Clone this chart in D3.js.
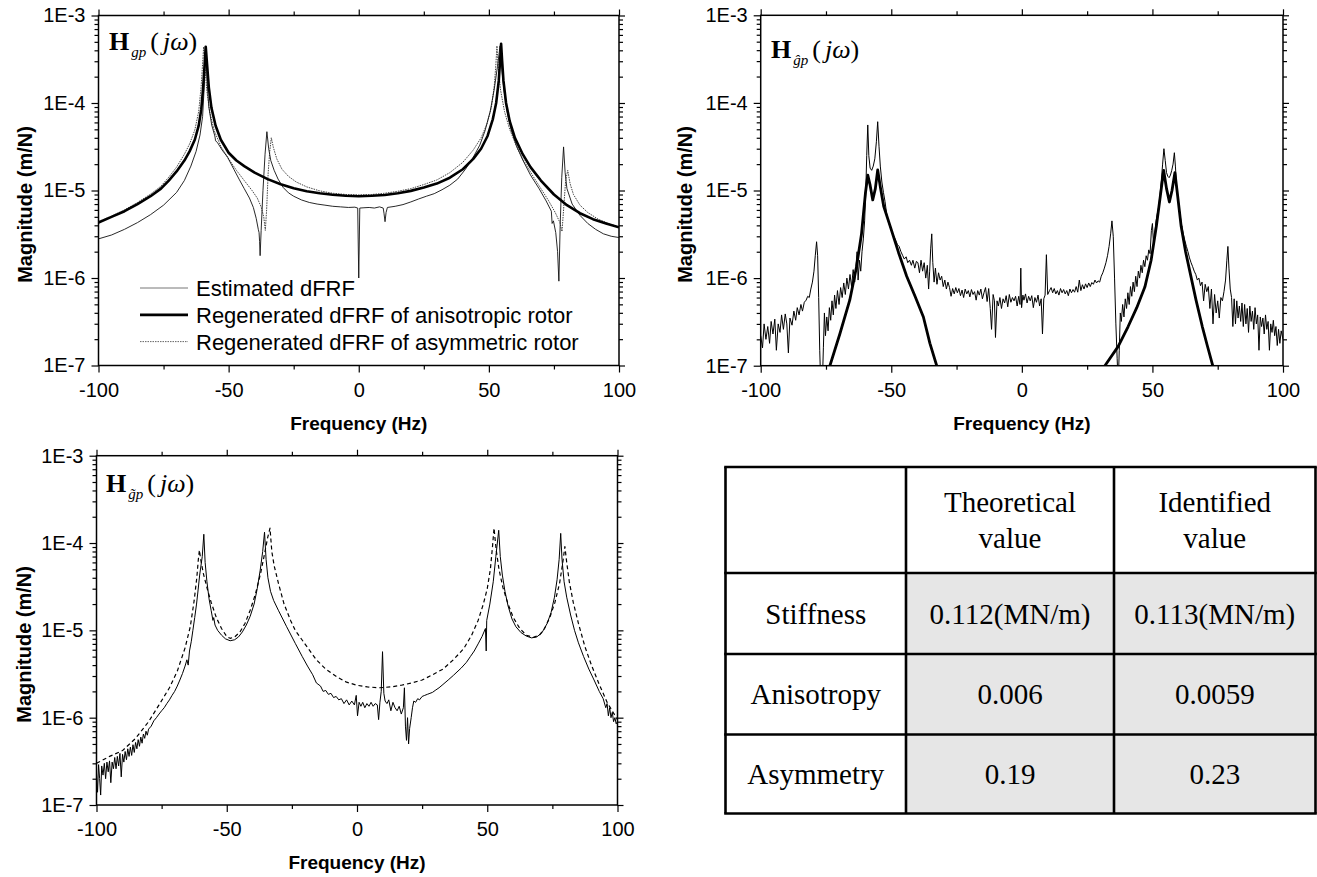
<!DOCTYPE html>
<html>
<head>
<meta charset="utf-8">
<script src="https://cdn.jsdelivr.net/npm/d3@7"></script>
<style>
  body { margin: 0; background: #fff; }
</style>
</head>
<body>
<script>
// ---- axis ticks ----
var xMajor = [-100, -50, 0, 50, 100];
var xMinor = [-75, -25, 25, 75];
var yMajor = [1e-7, 1e-6, 1e-5, 1e-4, 1e-3];

// ---- top left: H_gp ----
var gpEstimated = [[-100,2.8e-6],[-95,3.1e-6],[-90,3.6e-6],[-85,4.3e-6],[-80,5.3e-6],[-75,6.8e-6],[-70,9.5e-6],[-67,1.3e-5],[-64.5,1.9e-5],[-62.5,2.8e-5],[-61,4.3e-5],[-60,7e-5],[-59.4,1.5e-4],[-58.8,4.3e-4],[-58.3,1.8e-4],[-57.6,9e-5],[-56.5,5.6e-5],[-55.3,4.2e-5],[-55,3.7e-5],[-54.2,3.5e-5],[-52.5,2.9e-5],[-50.4,2.4e-5],[-48,1.75e-5],[-46,1.35e-5],[-44,1.05e-5],[-42,8.2e-6],[-40.5,6.4e-6],[-39.4,4.8e-6],[-38.6,3.6e-6],[-38.3,3.3e-6],[-38.1,2.6e-6],[-37.9,1.8e-6],[-37.5,3.5e-6],[-36.8,1e-5],[-36,2.6e-5],[-35.3,4.7e-5],[-34.6,3e-5],[-33.8,2.2e-5],[-32.5,1.7e-5],[-31,1.35e-5],[-29,1.08e-5],[-27,9.4e-6],[-25,8.6e-6],[-22,7.8e-6],[-19,7.3e-6],[-16,7e-6],[-13,6.8e-6],[-10,6.6e-6],[-7,6.5e-6],[-4,6.4e-6],[-1.5,6.45e-6],[-0.4,6.3e-6],[0,1e-6],[0.4,6.3e-6],[2,6.35e-6],[4,6.4e-6],[6,6.3e-6],[8,6.5e-6],[9.4,6.3e-6],[9.7,5.5e-6],[10.1,4.4e-6],[10.5,5.6e-6],[11,6.4e-6],[14,6.6e-6],[17,6.9e-6],[20,7.4e-6],[23,8e-6],[26,8.6e-6],[29,9.2e-6],[32,1.02e-5],[35,1.15e-5],[38,1.35e-5],[41,1.75e-5],[44,2.4e-5],[46.5,3.3e-5],[48.5,4.8e-5],[50.5,8e-5],[52,1.4e-4],[53.3,2.6e-4],[54.3,4.5e-4],[55,2.4e-4],[55.8,1.4e-4],[57,8e-5],[58.5,5e-5],[60.5,3.3e-5],[62.8,2.3e-5],[66,1.5e-5],[69.3,1.05e-5],[72,7.6e-6],[74,5.8e-6],[74.3,4.2e-6],[74.8,4.5e-6],[75.7,3.3e-6],[76.4,2e-6],[76.9,9.2e-7],[77.4,4e-6],[78,1.4e-5],[78.7,3.15e-5],[79.3,1.6e-5],[80,1.05e-5],[82,7e-6],[85,5.2e-6],[88,4.2e-6],[91,3.6e-6],[94,3.2e-6],[97,3e-6],[100,2.9e-6]];

var gpAniso = [[-100,4.3e-6],[-95,5e-6],[-90,5.8e-6],[-85,7e-6],[-80,8.6e-6],[-76,1.05e-5],[-73,1.3e-5],[-70,1.65e-5],[-67,2.2e-5],[-65,2.8e-5],[-63,3.8e-5],[-61.5,5.5e-5],[-60.5,8.5e-5],[-59.8,1.5e-4],[-59.2,2.8e-4],[-58.8,4.4e-4],[-58.3,2.8e-4],[-57.6,1.5e-4],[-56.6,8.8e-5],[-55,5.5e-5],[-53,3.8e-5],[-50,2.7e-5],[-47,2.2e-5],[-44,1.9e-5],[-40,1.6e-5],[-35,1.35e-5],[-30,1.18e-5],[-25,1.06e-5],[-20,9.8e-6],[-15,9.3e-6],[-10,8.95e-6],[-5,8.7e-6],[0,8.6e-6],[5,8.7e-6],[10,8.9e-6],[15,9.3e-6],[20,9.9e-6],[25,1.08e-5],[30,1.2e-5],[35,1.4e-5],[40,1.75e-5],[44,2.3e-5],[47,3e-5],[49.5,4.2e-5],[51.5,6.5e-5],[52.8,1e-4],[53.8,1.8e-4],[54.3,3e-4],[54.7,4.75e-4],[55.1,3e-4],[55.6,1.8e-4],[56.6,1e-4],[58,6.2e-5],[60,4e-5],[63,2.6e-5],[66,1.85e-5],[70,1.3e-5],[75,9e-6],[80,6.8e-6],[85,5.5e-6],[90,4.7e-6],[95,4.2e-6],[100,3.8e-6]];

var gpAsym = [[-100,4.4e-6],[-95,5.1e-6],[-90,6e-6],[-85,7.3e-6],[-80,9.1e-6],[-76,1.12e-5],[-73,1.42e-5],[-70,1.85e-5],[-67,2.6e-5],[-65,3.4e-5],[-63,4.9e-5],[-61.5,8e-5],[-60.6,1.5e-4],[-60,2.8e-4],[-59.6,4.4e-4],[-59.1,2.6e-4],[-58.4,1.4e-4],[-57.3,8e-5],[-55.5,4.8e-5],[-53,3.2e-5],[-50,2.3e-5],[-47,1.7e-5],[-44,1.3e-5],[-41,1e-5],[-39,8.2e-6],[-37.5,6.5e-6],[-36.5,5e-6],[-35.9,3.5e-6],[-35.4,6e-6],[-34.8,1.6e-5],[-34.2,2.8e-5],[-33.6,4e-5],[-32.8,3.1e-5],[-31.5,2.3e-5],[-29.5,1.75e-5],[-27,1.45e-5],[-24,1.25e-5],[-20,1.1e-5],[-15,9.9e-6],[-10,9.3e-6],[-5,9e-6],[0,8.9e-6],[5,9e-6],[10,9.3e-6],[15,9.8e-6],[20,1.05e-5],[25,1.17e-5],[30,1.32e-5],[35,1.6e-5],[40,2.1e-5],[44,2.9e-5],[47,4e-5],[49.3,5.8e-5],[51,9e-5],[52.1,1.6e-4],[52.7,2.8e-4],[53.1,4.5e-4],[53.6,2.6e-4],[54.5,1.4e-4],[56,8e-5],[58,5e-5],[61,3e-5],[64,2.05e-5],[67,1.45e-5],[70,1.05e-5],[73,7.6e-6],[75.5,5.6e-6],[77.3,4.3e-6],[78.1,3.4e-6],[78.7,6e-6],[79.5,1.3e-5],[80.3,1.7e-5],[81.2,1.2e-5],[82.5,9e-6],[85,6.8e-6],[88,5.6e-6],[92,4.7e-6],[96,4.2e-6],[100,3.8e-6]];

var legendLabels = ["Estimated dFRF", "Regenerated dFRF of anisotropic rotor", "Regenerated dFRF of asymmetric rotor"];

// ---- top right: H_ĝp ----
var hatEstimated = [[-100,2.2e-7],[-99.3,1.6e-7],[-98.7,3e-7],[-98,2e-7],[-97.3,2.8e-7],[-96.6,1.8e-7],[-96,3.2e-7],[-95.3,2.3e-7],[-94.6,3.4e-7],[-94,1.5e-7],[-93.3,3e-7],[-92.6,2.4e-7],[-92,3.8e-7],[-91.3,2.6e-7],[-90.6,3.9e-7],[-90,3e-7],[-89.4,1.4e-7],[-88.8,3.5e-7],[-88,2.9e-7],[-87.3,4.2e-7],[-86.6,3.3e-7],[-86,4.6e-7],[-85.3,3.8e-7],[-84.6,5e-7],[-84,4.2e-7],[-83.3,5.3e-7],[-82.6,5.6e-7],[-82,6.2e-7],[-81.4,6e-7],[-80.8,7.5e-7],[-80.2,9e-7],[-79.6,1.2e-6],[-79.1,1.8e-6],[-78.6,2.6e-6],[-78.2,1.8e-6],[-77.8,6e-7],[-77.4,1.5e-7],[-77,6e-8],[-76.4,6e-8],[-76,1.6e-7],[-75.6,4e-7],[-75.2,2.2e-7],[-74.7,3.6e-7],[-74.2,2.5e-7],[-73.7,4.6e-7],[-73.2,3.3e-7],[-72.7,5.5e-7],[-72.2,3.8e-7],[-71.7,6.4e-7],[-71.2,4.5e-7],[-70.6,7.2e-7],[-70,5e-7],[-69.4,7.8e-7],[-68.8,6e-7],[-68.2,8.8e-7],[-67.6,6.5e-7],[-67,1e-6],[-66.4,7.5e-7],[-65.8,1.1e-6],[-65.2,8e-7],[-64.6,1.25e-6],[-64,9e-7],[-63.5,1.4e-6],[-63.1,2e-6],[-62.7,9.5e-7],[-62.2,1.6e-6],[-61.7,1.2e-6],[-61.2,2e-6],[-60.7,2.8e-6],[-60.2,4.5e-6],[-59.8,9e-6],[-59.4,2.5e-5],[-59,5.6e-5],[-58.6,2.5e-5],[-58.1,1.8e-5],[-57.5,1.7e-5],[-56.9,1.9e-5],[-56.3,2.3e-5],[-55.7,3.6e-5],[-55.2,6.1e-5],[-54.7,3.2e-5],[-54.2,1.9e-5],[-53.6,1.25e-5],[-53,9.5e-6],[-52.4,7.5e-6],[-51.8,5.5e-6],[-51.2,4.5e-6],[-50.5,3.9e-6],[-49.8,3.4e-6],[-49,3e-6],[-48.3,2.7e-6],[-47.6,2.4e-6],[-47,2.3e-6],[-46.3,2e-6],[-45.6,1.8e-6],[-45,1.65e-6],[-44.3,1.75e-6],[-43.7,1.5e-6],[-43,1.6e-6],[-42.3,1.4e-6],[-41.7,1.6e-6],[-41,1.3e-6],[-40.4,1.55e-6],[-39.8,1.5e-6],[-39.2,1.15e-6],[-38.6,1.6e-6],[-38,1.2e-6],[-37.4,1.5e-6],[-36.8,1e-6],[-36.2,1.4e-6],[-35.7,7.5e-7],[-35.3,1.2e-6],[-34.9,2.2e-6],[-34.5,3.2e-6],[-34.1,1.5e-6],[-33.6,9e-7],[-33.1,1.3e-6],[-32.5,8.5e-7],[-31.9,1.15e-6],[-31.3,9.5e-7],[-30.7,1.05e-6],[-30.1,8e-7],[-29.5,9.5e-7],[-28.9,7.5e-7],[-28.3,9e-7],[-27.7,7.8e-7],[-27.1,6.2e-7],[-26.5,7.6e-7],[-25.9,6.6e-7],[-25.3,7.8e-7],[-24.7,6.8e-7],[-24.1,7.6e-7],[-23.5,6.3e-7],[-22.9,7.3e-7],[-22.3,6e-7],[-21.7,7.5e-7],[-21.1,6.6e-7],[-20.5,7.2e-7],[-19.9,6.1e-7],[-19.3,7.4e-7],[-18.7,6.5e-7],[-18.1,7e-7],[-17.5,5.6e-7],[-16.9,7.2e-7],[-16.3,6.4e-7],[-15.7,7.5e-7],[-15.1,5.8e-7],[-14.5,6.8e-7],[-13.9,7.8e-7],[-13.3,5.4e-7],[-12.7,7.6e-7],[-12.1,4.5e-7],[-11.6,2.6e-7],[-11,6.5e-7],[-10.5,5.5e-7],[-10.1,2.1e-7],[-9.5,5.5e-7],[-9,4.8e-7],[-8.4,6e-7],[-7.8,4.5e-7],[-7.2,5.8e-7],[-6.6,5.2e-7],[-6,6.3e-7],[-5.4,4.7e-7],[-4.8,6.5e-7],[-4.2,5.3e-7],[-3.6,6e-7],[-3,5.5e-7],[-2.4,6.2e-7],[-1.8,4.8e-7],[-1.2,6.2e-7],[-0.7,5e-7],[-0.4,1.3e-6],[-0.1,4.6e-7],[0.4,6.4e-7],[0.8,5.6e-7],[1.4,6.6e-7],[2,5.2e-7],[2.6,6.2e-7],[3.2,5.5e-7],[3.8,6.3e-7],[4.4,4.6e-7],[5,6e-7],[5.6,5.3e-7],[6.2,6.4e-7],[6.8,4.8e-7],[7.4,5.8e-7],[7.9,2.3e-7],[8.4,5.8e-7],[8.9,6.4e-7],[9.4,1.85e-6],[9.9,6.5e-7],[10.6,7.2e-7],[11.2,7.8e-7],[11.8,6.8e-7],[12.4,7.6e-7],[13,6.6e-7],[13.6,7.2e-7],[14.2,6.4e-7],[14.8,7.6e-7],[15.4,6.8e-7],[16,7.4e-7],[16.6,6.6e-7],[17.2,7.2e-7],[17.8,6.3e-7],[18.4,7.5e-7],[19,6.8e-7],[19.6,7.4e-7],[20.2,6.9e-7],[20.8,8e-7],[21.4,6.9e-7],[22,9.5e-7],[22.6,7.2e-7],[23.2,8.4e-7],[23.8,7.5e-7],[24.4,8.6e-7],[25,7.8e-7],[25.6,8.8e-7],[26.2,8e-7],[26.8,8.9e-7],[27.4,8.5e-7],[28,9.5e-7],[28.6,8.8e-7],[29.2,9.3e-7],[29.8,9e-7],[30.4,1.05e-6],[31,1.15e-6],[31.6,1.3e-6],[32.2,1.5e-6],[32.8,1.8e-6],[33.4,2.3e-6],[34,3.2e-6],[34.5,4.5e-6],[35,3e-6],[35.5,1e-6],[36,3e-7],[36.5,1.2e-7],[36.9,6e-8],[37.3,1.5e-7],[37.7,4e-7],[38.1,3.2e-7],[38.6,5e-7],[39.1,3.6e-7],[39.6,5.8e-7],[40.1,4.5e-7],[40.6,6.8e-7],[41.1,5e-7],[41.6,8e-7],[42.1,6.2e-7],[42.6,9e-7],[43.1,7e-7],[43.6,1.05e-6],[44.1,8e-7],[44.6,1.2e-6],[45.1,1e-6],[45.6,1.4e-6],[46.1,1.15e-6],[46.6,1.6e-6],[47.1,1.35e-6],[47.6,1.8e-6],[48.1,1.6e-6],[48.6,2.1e-6],[49.1,1.9e-6],[49.6,3.5e-6],[50,4.2e-6],[50.4,2.5e-6],[50.9,3.2e-6],[51.4,4.5e-6],[51.9,5.5e-6],[52.4,6.5e-6],[52.9,9e-6],[53.4,1.3e-5],[53.9,2e-5],[54.4,3e-5],[54.9,2.2e-5],[55.4,1.6e-5],[55.9,1.45e-5],[56.4,1.4e-5],[56.9,1.5e-5],[57.4,1.7e-5],[57.9,2e-5],[58.4,2.7e-5],[58.8,1.9e-5],[59.2,1.2e-5],[59.7,8.5e-6],[60.2,6.5e-6],[60.7,5e-6],[61.2,4e-6],[61.8,3.2e-6],[62.4,2.7e-6],[63,2.3e-6],[63.6,2e-6],[64.2,1.7e-6],[64.8,1.5e-6],[65.4,1.35e-6],[66,1.2e-6],[66.6,1.1e-6],[67.2,9.5e-7],[67.8,1e-6],[68.4,8.2e-7],[69,9e-7],[69.6,5.5e-7],[70.2,8.5e-7],[70.8,7e-7],[71.4,8e-7],[72,4.5e-7],[72.6,7.5e-7],[73.2,3e-7],[73.8,6.5e-7],[74.4,4e-7],[75,5.5e-7],[75.6,3.5e-7],[76.2,6e-7],[76.8,5.5e-7],[77.4,7e-7],[78,9.5e-7],[78.5,1.6e-6],[78.9,2.3e-6],[79.3,1.3e-6],[79.8,7.5e-7],[80.3,6e-7],[80.8,2.8e-7],[81.3,5.8e-7],[81.8,3e-7],[82.3,5.5e-7],[82.8,3.5e-7],[83.3,4.8e-7],[83.8,3.2e-7],[84.3,5.2e-7],[84.8,2.8e-7],[85.3,5e-7],[85.8,3e-7],[86.3,4.5e-7],[86.8,2.4e-7],[87.3,4.8e-7],[87.8,3.2e-7],[88.3,4.2e-7],[88.8,2.6e-7],[89.3,4.6e-7],[89.8,3e-7],[90.3,3.8e-7],[90.8,1.5e-7],[91.3,3.6e-7],[91.8,2.8e-7],[92.3,3.5e-7],[92.8,2.3e-7],[93.3,3.8e-7],[93.8,2.6e-7],[94.3,3.2e-7],[94.8,1.5e-7],[95.3,3e-7],[95.8,2.4e-7],[96.3,3.3e-7],[96.8,2.2e-7],[97.3,2.8e-7],[97.8,1.7e-7],[98.3,2.6e-7],[98.8,1.8e-7],[99.3,2.5e-7],[100,2e-7]];

var hatRegen = [[-76,5e-8],[-73.5,1e-7],[-69.7,2.3e-7],[-65.9,5.6e-7],[-63.3,1.35e-6],[-61.4,3.2e-6],[-59.9,9.3e-6],[-59,1.5e-5],[-58.1,1.15e-5],[-57.1,7.8e-6],[-56.1,1.05e-5],[-55.2,1.72e-5],[-54.2,1.1e-5],[-52.9,6.6e-6],[-50.4,3.9e-6],[-47.2,1.95e-6],[-44.1,1.05e-6],[-40.9,6.2e-7],[-37.7,3.6e-7],[-35.2,1.8e-7],[-32.6,1e-7],[-30,5e-8],
  [30,5e-8],[31.8,1e-7],[36.9,1.66e-7],[40.7,2.8e-7],[44,4.6e-7],[47.1,7.9e-7],[49.5,1.6e-6],[51.5,3.9e-6],[53,8.5e-6],[54.3,1.7e-5],[55.4,1.05e-5],[56.5,7.4e-6],[57.5,1e-5],[58.6,1.6e-5],[59.6,9e-6],[61,3.9e-6],[62.7,2e-6],[64.3,1.2e-6],[66.7,5.6e-7],[69.1,2.8e-7],[71,1.7e-7],[73.1,1e-7],[75,5e-8]];

// ---- bottom left: H_g~p ----
var tildeEstimated = [[-100,2.3e-7],[-99.6,1.4e-7],[-99.2,2.9e-7],[-98.8,2e-7],[-98.4,1.3e-7],[-98,2.8e-7],[-97.5,2.2e-7],[-97,3e-7],[-96.5,2e-7],[-96,3.1e-7],[-95.5,2.4e-7],[-95,3.2e-7],[-94.5,1.8e-7],[-94,3.1e-7],[-93.5,2.6e-7],[-93,3.5e-7],[-92.5,2.6e-7],[-92,3.6e-7],[-91.5,2.8e-7],[-91,3.9e-7],[-90.5,2.1e-7],[-90,3.8e-7],[-89.5,3.1e-7],[-89,4.1e-7],[-88.5,3.3e-7],[-88,4.4e-7],[-87.5,3.6e-7],[-87,4.6e-7],[-86.5,3.7e-7],[-86,4.9e-7],[-85.5,4e-7],[-85,5.2e-7],[-84.5,4.4e-7],[-84,5.6e-7],[-83.5,4.7e-7],[-83,6e-7],[-82.5,5.1e-7],[-82,6.5e-7],[-81.5,5.8e-7],[-81,7e-7],[-80.5,6.3e-7],[-80,7.4e-7],[-79,8e-7],[-78,9.2e-7],[-77,1e-6],[-76,1.1e-6],[-75,1.2e-6],[-74,1.3e-6],[-73,1.45e-6],[-72,1.6e-6],[-71,1.8e-6],[-70,2e-6],[-69,2.3e-6],[-68,2.7e-6],[-67,3.2e-6],[-66,3.9e-6],[-65.3,4.6e-6],[-64.8,4e-6],[-64.3,5.8e-6],[-63.6,7.5e-6],[-63,1e-5],[-62.3,1.4e-5],[-61.6,2e-5],[-61,2.9e-5],[-60.4,4.3e-5],[-59.4,7e-5],[-58.8,1.26e-4],[-58.3,6e-5],[-57.6,3.6e-5],[-56.8,2.3e-5],[-56,1.7e-5],[-55.3,1.3e-5],[-55,1.4e-5],[-54.5,1.15e-5],[-53.5,1e-5],[-52,8.8e-6],[-50.5,8e-6],[-48.7,7.6e-6],[-47,7.8e-6],[-45.5,8.4e-6],[-44,9.6e-6],[-42.5,1.15e-5],[-41,1.45e-5],[-39.5,2e-5],[-38.3,3e-5],[-37.2,4.8e-5],[-36.2,8e-5],[-35.5,1.33e-4],[-34.9,6.5e-5],[-34.2,4e-5],[-33.2,2.8e-5],[-32,2.2e-5],[-30.2,1.7e-5],[-27,1.1e-5],[-23.7,7.1e-6],[-21,5e-6],[-19,3.9e-6],[-17,3.1e-6],[-15.6,2.5e-6],[-14,2.3e-6],[-13,2e-6],[-12,2.05e-6],[-11,1.85e-6],[-10,1.9e-6],[-9,1.7e-6],[-8,1.75e-6],[-7,1.6e-6],[-6,1.65e-6],[-5,1.45e-6],[-4,1.6e-6],[-3,1.4e-6],[-2,1.55e-6],[-1,1.4e-6],[-0.3,1.8e-6],[0.2,1.05e-6],[0.8,1.5e-6],[1.5,1.35e-6],[2.2,1.5e-6],[3,1.3e-6],[3.8,1.45e-6],[4.6,1.35e-6],[5.4,1.5e-6],[6.2,1.35e-6],[7,1.45e-6],[7.8,1.4e-6],[8.3,9.5e-7],[8.8,1.5e-6],[9.3,2e-6],[9.8,5.7e-6],[10.3,1.9e-6],[10.8,1.55e-6],[11.5,1.45e-6],[12.2,1.6e-6],[13,1.2e-6],[13.8,1.5e-6],[14.6,1.3e-6],[15.4,1.2e-6],[16.2,1.35e-6],[17,1.1e-6],[17.8,1.3e-6],[18.2,2.2e-6],[18.6,8e-7],[19,5.5e-7],[19.4,1e-6],[19.8,5e-7],[20.2,7.5e-7],[20.8,1e-6],[21.3,1.3e-6],[21.8,1.55e-6],[22.5,1.5e-6],[23.3,1.65e-6],[24,1.6e-6],[25,1.75e-6],[26,1.8e-6],[27,1.85e-6],[28,1.9e-6],[29,1.95e-6],[30,2.05e-6],[31.5,2.2e-6],[33,2.4e-6],[35,2.7e-6],[37,3.05e-6],[40,3.7e-6],[42,4.3e-6],[43.5,5e-6],[45,5.8e-6],[46.5,7e-6],[48,8.5e-6],[49.3,1.05e-5],[49.6,5.8e-6],[49.8,1.3e-5],[51,2e-5],[52.3,3.6e-5],[53.3,7e-5],[54.4,1.4e-4],[55,7e-5],[55.8,4.3e-5],[56.8,2.8e-5],[58,1.9e-5],[59.5,1.35e-5],[61,1.1e-5],[63,9.4e-6],[65,8.6e-6],[67,8.2e-6],[69,8.4e-6],[71,9.4e-6],[73,1.2e-5],[74.5,1.6e-5],[75.8,2.4e-5],[76.8,3.8e-5],[77.6,6.5e-5],[78.2,1.29e-4],[78.7,6.5e-5],[79.5,3.6e-5],[80.5,2.4e-5],[82,1.5e-5],[83.5,1e-5],[85,7.2e-6],[87,5e-6],[89,3.6e-6],[91,2.7e-6],[93,2e-6],[94.5,1.65e-6],[95.5,1.3e-6],[96,1.45e-6],[96.5,1.05e-6],[97,1.3e-6],[97.5,1e-6],[98,1.15e-6],[98.5,9e-7],[99,1e-6],[99.5,8.5e-7],[100,9e-7]];

var tildeRegen = [[-100,3e-7],[-95,3.6e-7],[-90,4.2e-7],[-85,5.8e-7],[-80,9e-7],[-76,1.4e-6],[-72,2.2e-6],[-69,3.4e-6],[-66,6.3e-6],[-64,1.1e-5],[-62.5,2.2e-5],[-61.5,4e-5],[-60.9,6.5e-5],[-60.5,8.3e-5],[-60,6.5e-5],[-59,4.5e-5],[-57.5,3e-5],[-56,2.1e-5],[-54,1.4e-5],[-52,1.05e-5],[-50,8.5e-6],[-48.7,8.1e-6],[-47,8.4e-6],[-45,9.5e-6],[-43,1.2e-5],[-41,1.7e-5],[-39,2.6e-5],[-37,4.5e-5],[-35.5,7.5e-5],[-34.3,1.15e-4],[-33.4,1.48e-4],[-32.7,8e-5],[-31.8,5.5e-5],[-30.2,3.5e-5],[-28,2e-5],[-25.5,1.3e-5],[-23.7,1e-5],[-20,7e-6],[-15.6,4.6e-6],[-12,3.6e-6],[-7.5,2.9e-6],[-4,2.55e-6],[0,2.35e-6],[4,2.25e-6],[8.6,2.2e-6],[13,2.25e-6],[17,2.35e-6],[21,2.5e-6],[25,2.7e-6],[29,3.1e-6],[33,3.6e-6],[37,4.6e-6],[41,6.2e-6],[44,8.8e-6],[46.5,1.3e-5],[48.5,2e-5],[50,3e-5],[51.2,5e-5],[52,9e-5],[52.6,1.48e-4],[53.4,8.5e-5],[54.5,5e-5],[56,3.1e-5],[58,2e-5],[60,1.4e-5],[62.5,1.05e-5],[65,8.8e-6],[67.7,8.3e-6],[70,8.8e-6],[72,1.05e-5],[74,1.4e-5],[76,2.1e-5],[77.8,3.5e-5],[79,6e-5],[79.8,9.1e-5],[80.5,6e-5],[81.5,3.6e-5],[83,2.1e-5],[85,1.2e-5],[87.5,6.5e-6],[90,4e-6],[93,2.4e-6],[96,1.5e-6],[100,9.5e-7]];

// ---- table ----
var tableHeader = [["", ""], ["Theoretical", "value"], ["Identified", "value"]];
var tableRowNames = ["Stiffness", "Anisotropy", "Asymmetry"];
var tableTheoretical = ["0.112(MN/m)", "0.006", "0.19"];
var tableIdentified = ["0.113(MN/m)", "0.0059", "0.23"];

var SANS = "Arial, 'Liberation Sans', sans-serif";
var SERIF = "'Times New Roman', 'Liberation Serif', serif";

var width = 1317, height = 877;
var svg = d3.select("body").append("svg").attr("width", width).attr("height", height)
  .style("font-family", SANS);

function drawPanel(p) {
  var x = d3.scaleLinear().domain([-100, 100]).range([p.x0, p.x1]);
  var y = d3.scaleLog().domain([1e-7, 1e-3]).range([p.y1, p.y0]);
  var yMinor = y.ticks().filter(function (d) { return yMajor.indexOf(d) < 0; });
  var g = svg.append("g").attr("class", "panel");

  var yFmt = function (d) { return "1E" + Math.round(Math.log10(d)); };
  var xFmt = function (d) { return String(d); };

  var axes = [
    [d3.axisBottom(x), p.y1, 0, xMajor, 7, xFmt],
    [d3.axisBottom(x), p.y1, 0, xMinor, 4, null],
    [d3.axisTop(x), p.y0, 0, xMajor, 6, null],
    [d3.axisTop(x), p.y0, 0, xMinor, 4, null],
    [d3.axisLeft(y), 0, p.x0, yMajor, 7, yFmt],
    [d3.axisLeft(y), 0, p.x0, yMinor, 4, null],
    [d3.axisRight(y), 0, p.x1, yMajor, 6, null],
    [d3.axisRight(y), 0, p.x1, yMinor, 4, null]
  ];
  axes.forEach(function (a) {
    var ax = a[0].tickValues(a[3]).tickSize(a[4]).tickPadding(a[5] ? (a[1] ? 10 : 6) : 0)
      .tickFormat(a[5] ? a[5] : "");
    var ag = g.append("g").attr("transform", "translate(" + a[2] + "," + a[1] + ")").call(ax);
    ag.select(".domain").remove();
    ag.selectAll("line").attr("stroke", "#000").attr("stroke-width", 1.2);
    ag.selectAll("text").attr("font-size", 20).attr("fill", "#000").attr("font-family", SANS);
  });

  g.append("rect").attr("x", p.x0).attr("y", p.y0)
    .attr("width", p.x1 - p.x0).attr("height", p.y1 - p.y0)
    .attr("fill", "none").attr("stroke", "#000").attr("stroke-width", 1.5);

  var clipId = "clip" + p.id;
  svg.append("clipPath").attr("id", clipId).append("rect")
    .attr("x", p.x0).attr("y", p.y0).attr("width", p.x1 - p.x0).attr("height", p.y1 - p.y0);

  var line = d3.line().x(function (d) { return x(d[0]); }).y(function (d) { return y(d[1]); });
  var lines = g.append("g").attr("clip-path", "url(#" + clipId + ")");
  p.series.forEach(function (s) {
    var data = s.data;
    var segs = s.split ? [data.filter(function (d) { return d[0] < 0; }), data.filter(function (d) { return d[0] > 0; })] : [data];
    segs.forEach(function (seg) {
      lines.append("path").datum(seg).attr("d", line).attr("fill", "none")
        .attr("stroke", s.color).attr("stroke-width", s.w)
        .attr("stroke-dasharray", s.dash || null).attr("stroke-linejoin", "round");
    });
  });

  // axis titles
  g.append("text").attr("x", (p.x0 + p.x1) / 2).attr("y", p.y1 + 64)
    .attr("text-anchor", "middle").attr("font-size", 19).attr("font-weight", "bold")
    .text("Frequency (Hz)");
  g.append("text").attr("transform", "translate(" + p.ylx + "," + ((p.y0 + p.y1) / 2 + 14) + ") rotate(-90)")
    .attr("text-anchor", "middle").attr("dy", "0.35em").attr("font-size", 20).attr("font-weight", "bold")
    .text("Magnitude (m/N)");

  // H label
  var t = g.append("text").attr("x", p.hx).attr("y", p.hy)
    .style("font-family", SERIF).attr("font-size", 26);
  t.append("tspan").attr("font-weight", "bold").text("H");
  t.append("tspan").attr("font-style", "italic").attr("font-size", 15).attr("dx", 2).attr("dy", 7).text(p.sub);
  t.append("tspan").attr("dy", -7).attr("dx", 4).text("(");
  t.append("tspan").attr("font-style", "italic").attr("dx", 4).text("jω");
  t.append("tspan").text(")");
  return { g: g, x: x, y: y };
}

drawPanel({
  id: "A", x0: 98.5, x1: 619, y0: 15.5, y1: 365.5, ylx: 25, hx: 109, hy: 50, sub: "gp",
  series: [
    { data: gpAsym, color: "#444", w: 1, dash: "1.5,1" },
    { data: gpEstimated, color: "#111", w: 0.9 },
    { data: gpAniso, color: "#000", w: 2.6 }
  ]
});
drawPanel({
  id: "B", x0: 760.7, x1: 1283, y0: 15.3, y1: 365.7, ylx: 685, hx: 771, hy: 58, sub: "ĝp",
  series: [
    { data: hatEstimated, color: "#000", w: 1 },
    { data: hatRegen, color: "#000", w: 2.8, split: true }
  ]
});
drawPanel({
  id: "C", x0: 96.5, x1: 617.5, y0: 455.7, y1: 805, ylx: 24, hx: 106, hy: 492, sub: "g̃p",
  series: [
    { data: tildeRegen, color: "#000", w: 1.2, dash: "4,3" },
    { data: tildeEstimated, color: "#000", w: 1 }
  ]
});

// legend in panel A
var legStyles = [
  { color: "#777", w: 1, dash: null },
  { color: "#000", w: 2.8, dash: null },
  { color: "#666", w: 1, dash: "1.5,1" }
];
var leg = svg.append("g");
legendLabels.forEach(function (l, i) {
  var yy = 288 + i * 26.8;
  leg.append("line").attr("x1", 140).attr("x2", 188).attr("y1", yy).attr("y2", yy)
    .attr("stroke", legStyles[i].color).attr("stroke-width", legStyles[i].w)
    .attr("stroke-dasharray", legStyles[i].dash);
  leg.append("text").attr("x", 196).attr("y", yy).attr("dy", "0.36em")
    .attr("font-size", 22).text(l);
});

// ---- table ----
var colEdges = [725.5, 906, 1114, 1315.5];
var rowEdges = [467, 573, 654, 734.5, 813.5];
var tg = svg.append("g").style("font-family", SERIF);
var cells = [];
tableHeader.forEach(function (h, c) { cells.push({ r: 0, c: c, lines: h, fill: "#fff" }); });
tableRowNames.forEach(function (n, r) {
  cells.push({ r: r + 1, c: 0, lines: [n], fill: "#fff" });
  cells.push({ r: r + 1, c: 1, lines: [tableTheoretical[r]], fill: "#e6e6e6" });
  cells.push({ r: r + 1, c: 2, lines: [tableIdentified[r]], fill: "#e6e6e6" });
});
cells.forEach(function (d) {
  var x0 = colEdges[d.c], x1 = colEdges[d.c + 1], y0 = rowEdges[d.r], y1 = rowEdges[d.r + 1];
  tg.append("rect").attr("x", x0).attr("y", y0).attr("width", x1 - x0).attr("height", y1 - y0)
    .attr("fill", d.fill);
  var txt = d.lines.filter(function (s) { return s !== ""; });
  var cy = (y0 + y1) / 2, lh = 36;
  txt.forEach(function (s, i) {
    tg.append("text").attr("x", (x0 + x1) / 2).attr("y", cy + (i - (txt.length - 1) / 2) * lh)
      .attr("dy", "0.35em").attr("text-anchor", "middle").attr("font-size", 29).text(s);
  });
});
colEdges.forEach(function (cx) {
  tg.append("line").attr("x1", cx).attr("x2", cx).attr("y1", rowEdges[0]).attr("y2", rowEdges[4])
    .attr("stroke", "#000").attr("stroke-width", 2.6);
});
rowEdges.forEach(function (ry) {
  tg.append("line").attr("x1", colEdges[0] - 1.3).attr("x2", colEdges[3] + 1.3).attr("y1", ry).attr("y2", ry)
    .attr("stroke", "#000").attr("stroke-width", 2.6);
});
</script>
</body>
</html>
